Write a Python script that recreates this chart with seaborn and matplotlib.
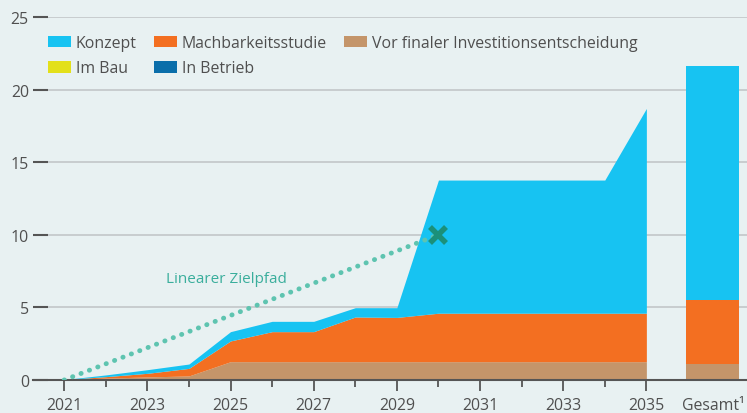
import matplotlib
matplotlib.use("Agg")
import matplotlib.pyplot as plt
import seaborn as sns
import numpy as np
import pandas as pd
from matplotlib.patches import Patch

# Daten (kumulierte Kapazität)
jahre = [2021, 2022, 2023, 2024, 2025, 2026, 2027, 2028, 2029, 2030, 2031, 2032, 2033, 2034, 2035]
in_betrieb = [0.03] * 15
im_bau = [0.0] * 15
vor_fid = [0.0, 0.1, 0.18, 0.25, 1.23, 1.23, 1.23, 1.23, 1.23, 1.23, 1.23, 1.23, 1.23, 1.23, 1.23]
machbarkeit = [0.0, 0.1, 0.25, 0.52, 1.43, 2.07, 2.07, 3.08, 3.05, 3.34, 3.34, 3.34, 3.34, 3.34, 3.34]
konzept = [0.0, 0.12, 0.25, 0.3, 0.64, 0.71, 0.71, 0.64, 0.67, 9.17, 9.17, 9.17, 9.17, 9.17, 14.1]

# Gesamt-Balken
gesamt = {"In Betrieb": 0.05, "Im Bau": 0.0, "Vor finaler Investitionsentscheidung": 1.05,
          "Machbarkeitsstudie": 4.4, "Konzept": 16.1}

ziel_x = [2021, 2030]
ziel_y = [0, 10]

farben = {"Konzept": "#17C3F2", "Machbarkeitsstudie": "#F36F21",
          "Vor finaler Investitionsentscheidung": "#C4956A", "Im Bau": "#E3E01A",
          "In Betrieb": "#0A6EAA"}
bg = "#E8F1F2"
grau = "#4F4F4F"

sns.set_style("white")
plt.rcParams["font.family"] = ["Open Sans", "DejaVu Sans"]

fig = plt.figure(figsize=(7.47, 4.14), dpi=100, facecolor=bg)
ax = fig.add_axes([33 / 747, 33 / 414, 1 - 33 / 747, (381 - 18) / 414])
ax.set_facecolor(bg)

reihen = ["In Betrieb", "Im Bau", "Vor finaler Investitionsentscheidung", "Machbarkeitsstudie", "Konzept"]
werte = [in_betrieb, im_bau, vor_fid, machbarkeit, konzept]
ax.stackplot(jahre, *werte, colors=[farben[r] for r in reihen], linewidth=0, zorder=3)

# Gesamt-Balken
gx = 2036.6
unten = 0
for r in reihen:
    ax.bar(gx, gesamt[r], bottom=unten, width=1.27, color=farben[r], linewidth=0, zorder=3)
    unten += gesamt[r]

# Zielpfad
ziel = pd.DataFrame({"x": ziel_x, "y": ziel_y})
sns.lineplot(data=ziel, x="x", y="y", ax=ax, color="#5EC4B0", lw=3.5,
             linestyle=(0, (0.05, 1.8)), dash_capstyle="round", zorder=5)
ax.plot([2030], [10], marker="x", ms=12, mew=4, color="#1B9079", zorder=6, ls="none")
ax.text(2023.45, 7.0, "Linearer Zielpfad", color="#3AAE9C", fontsize=11,
        va="center", ha="left", zorder=6)

ax.set_xlim(2020.25, 2037.42)
ax.set_ylim(0, 25)
ax.set_xlabel("")
ax.set_ylabel("")

# Achsen
for s in ["top", "right", "left"]:
    ax.spines[s].set_visible(False)
ax.spines["bottom"].set_color("#555555")
ax.spines["bottom"].set_linewidth(1.5)
ax.spines["bottom"].set_zorder(4)

ax.set_yticks([0, 5, 10, 15, 20, 25])
ax.yaxis.grid(True, color="#C5CACC", lw=1.3, zorder=0)
ax.tick_params(axis="y", direction="in", length=11, width=1.5, color="#555555",
               labelsize=11.4, labelcolor=grau, pad=3, left=True)

xt = [2021, 2023, 2025, 2027, 2029, 2031, 2033, 2035]
ax.set_xticks(xt + [gx])
ax.set_xticklabels([str(j) for j in xt] + ["Gesamt\u00b9"])
ax.set_xticks([2022, 2024, 2026, 2028, 2030, 2032, 2034], minor=True)
ax.tick_params(axis="x", which="major", direction="out", length=8, width=1.3,
               color="#555555", labelsize=11.4, labelcolor=grau, pad=4, bottom=True)
ax.tick_params(axis="x", which="minor", direction="out", length=5, width=1.3,
               color="#555555", bottom=True)
ax.xaxis.get_major_ticks()[-1].tick1line.set_visible(False)

# Legende
legend_order = ["Konzept", "Im Bau", "Machbarkeitsstudie", "In Betrieb",
                "Vor finaler Investitionsentscheidung"]
handles = [Patch(facecolor=farben[n], edgecolor="none", label=n) for n in legend_order]
leg = ax.legend(handles=handles, ncol=3, loc="upper left", frameon=False,
                bbox_to_anchor=(48 / 747, 1 - 36 / 414), bbox_transform=fig.transFigure,
                fontsize=11.4, handlelength=1.45, handleheight=0.75, handletextpad=0.3,
                columnspacing=1.1, labelspacing=0.6, borderpad=0, borderaxespad=0)
for t in leg.get_texts():
    t.set_color(grau)

fig.savefig("out.png", dpi=100, facecolor=bg)
